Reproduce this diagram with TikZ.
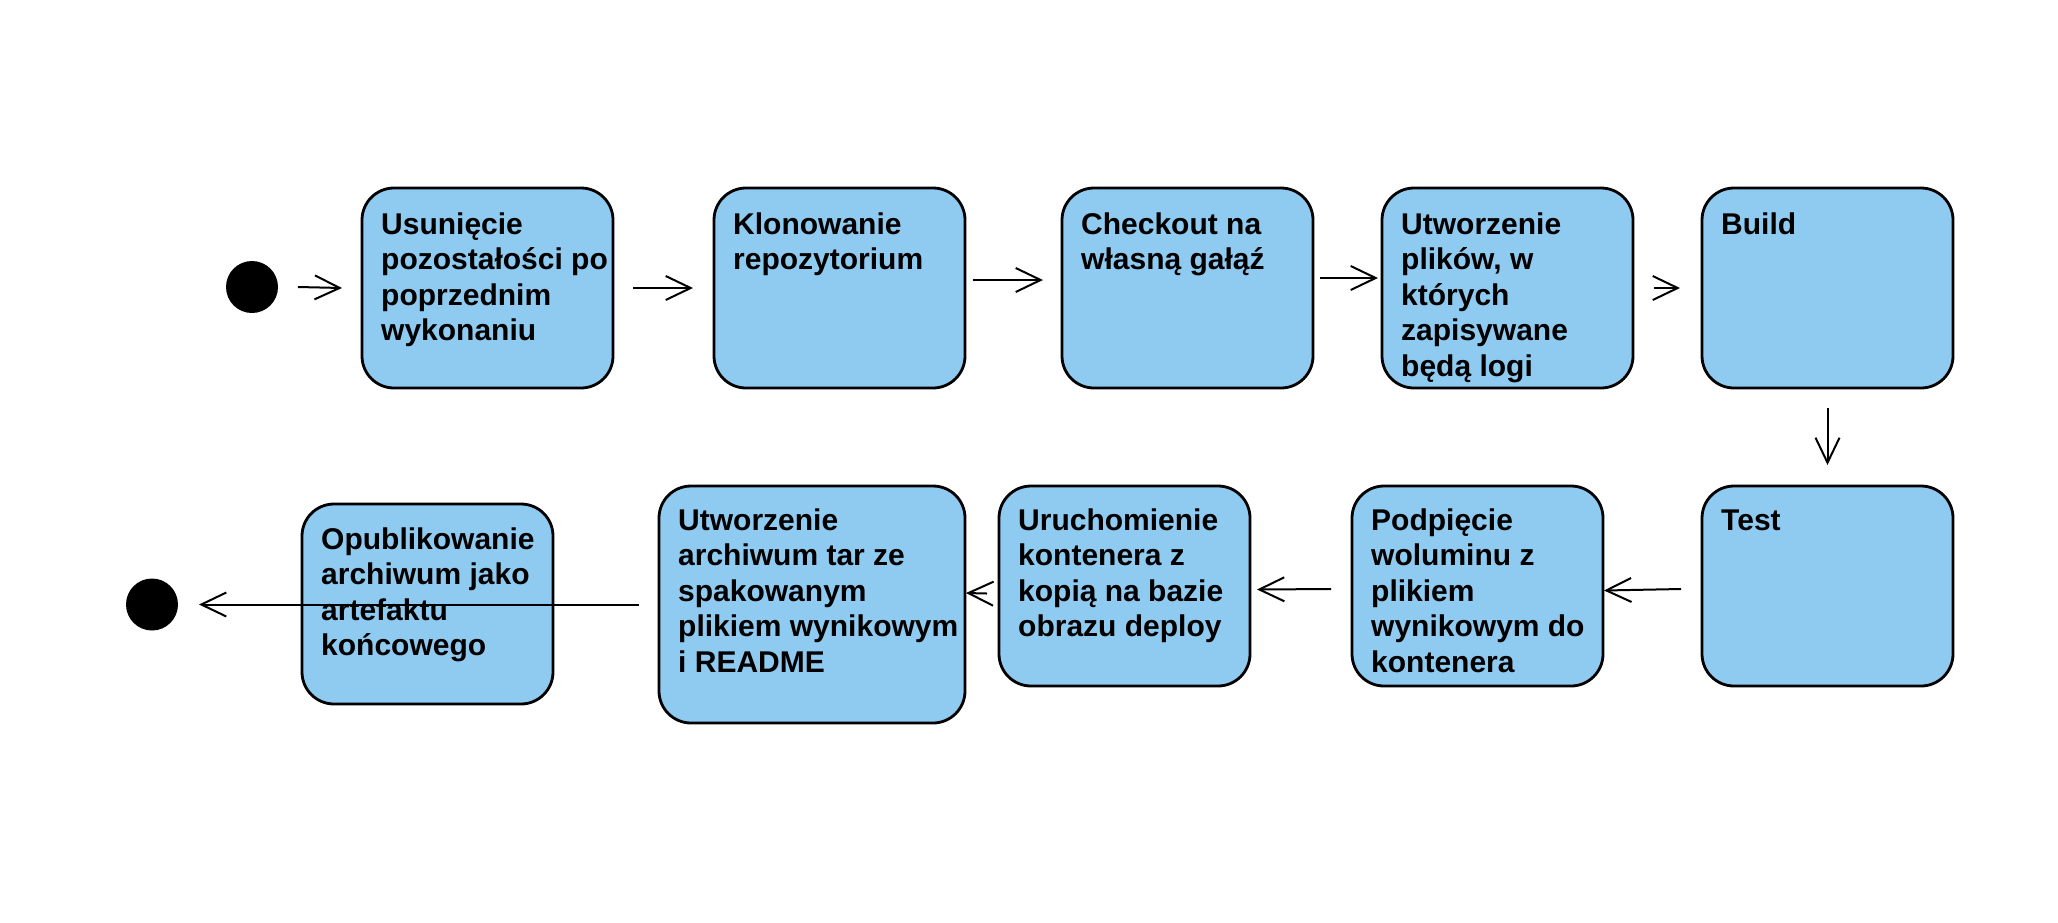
\documentclass[tikz,border=0pt]{standalone}
\usepackage{fontspec}
\setmainfont{Liberation Sans}
\usetikzlibrary{arrows.meta,calc}
\definecolor{boxblue}{RGB}{143,203,241}
\newcommand{\boxtext}[1]{\begin{tabular}[t]{@{}l@{}}#1\end{tabular}}
\begin{document}
\begin{tikzpicture}[x=1pt,y=-1pt,
  box/.style={draw=black, line width=2.8pt, fill=boxblue, rounded corners=32pt,
    minimum width=251pt, minimum height=200pt, inner sep=0pt, outer sep=0pt, anchor=north west},
  txt/.style={anchor=base west, inner sep=0pt, font=\fontsize{30}{35.5}\selectfont\bfseries},
  dot/.style={circle, fill=black, minimum size=52pt, inner sep=0pt, outer sep=0pt},
  arr/.style={line width=2pt, -{Straight Barb[length=25pt, width=24pt, line width=2pt]}}
]
\fill[white] (0,0) rectangle (2058,922);
\useasboundingbox (0,0) rectangle (2058,922);

% top row
\node[dot] (s) at (252,287) {};
\node[box] (b1) at (362,188) {};
\node[box] (b2) at (714,188) {};
\node[box] (b3) at (1062,188) {};
\node[box] (b4) at (1382,188) {};
\node[box] (b5) at (1702,188) {};
% bottom row
\node[box] (test) at (1702,486) {};
\node[box] (podp) at (1352,486) {};
\node[box] (uruch) at (999,486) {};
\node[box, minimum width=306pt, minimum height=237pt] (arch) at (659,486) {};
\node[box] (publ) at (302,504) {};
\node[dot] (e) at (152,604.5) {};

% texts
\node[txt] (t1) at ($(b1.north west)+(19,46)$) {\boxtext{Usunięcie\\pozostałości po\\poprzednim\\wykonaniu}};
\node[txt] (t2) at ($(b2.north west)+(19,46)$) {\boxtext{Klonowanie\\repozytorium}};
\node[txt] (t3) at ($(b3.north west)+(19,46)$) {\boxtext{Checkout na\\własną gałąź}};
\node[txt] (t4) at ($(b4.north west)+(19,46)$) {\boxtext{Utworzenie\\plików, w\\których\\zapisywane\\będą logi}};
\node[txt] (t5) at ($(b5.north west)+(19,46)$) {\boxtext{Build}};
\node[txt] (t6) at ($(test.north west)+(19,44)$) {\boxtext{Test}};
\node[txt] (t7) at ($(podp.north west)+(19,44)$) {\boxtext{Podpięcie\\woluminu z\\plikiem\\wynikowym do\\kontenera}};
\node[txt] (t8) at ($(uruch.north west)+(19,44)$) {\boxtext{Uruchomienie\\kontenera z\\kopią na bazie\\obrazu deploy}};
\node[txt] (t9) at ($(arch.north west)+(19,44)$) {\boxtext{Utworzenie\\archiwum tar ze\\spakowanym\\plikiem wynikowym\\i README}};
\node[txt] (t10) at ($(publ.north west)+(19,45)$) {\boxtext{Opublikowanie\\archiwum jako\\artefaktu\\końcowego}};

% connectors
\draw[arr] ([xshift=20pt]s.east) -- ([xshift=-20pt]b1.west);
\draw[arr] ([xshift=20pt]b1.east) -- ([xshift=-21pt]b2.west);
\draw[arr] ([shift={(8,-8)}]b2.east) -- ([shift={(-19,-8)}]b3.west);
\draw[arr] ([shift={(7,-10)}]b3.east) -- ([shift={(-4,-10)}]b4.west);
\draw[arr] ([xshift=21pt]b4.east) -- ([xshift=-22pt]b5.west);
\draw[arr] ([yshift=-20pt]b5.south) -- ([yshift=21pt]test.north);
\draw[arr] ([shift={(-21,3)}]test.west) -- ([shift={(1,4.5)}]podp.east);
\draw[arr] ([shift={(-21,3)}]podp.west) -- ([shift={(7,3.5)}]uruch.east);
\draw[arr] ([shift={(-12,7.5)}]uruch.west) -- ([shift={(1,-11.5)}]arch.east);
\draw[arr] ([xshift=-20pt]arch.west) -- ([xshift=21pt]e.east);
\end{tikzpicture}
\end{document}
